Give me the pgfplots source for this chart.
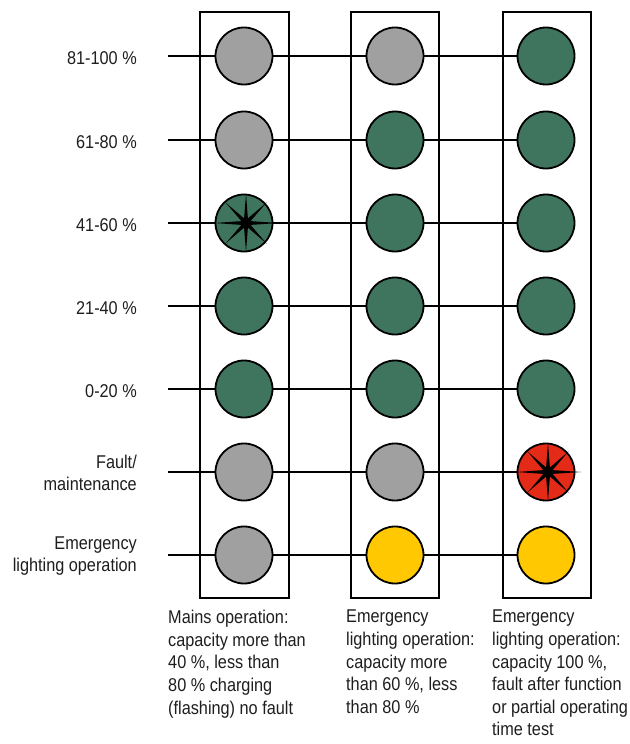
\documentclass[border=0pt]{standalone}
\usepackage{fontspec}
\setmainfont{Liberation Sans}[FakeStretch=0.88]
\usepackage{pgfplots}
\usepackage{pgfplotstable}
\pgfplotsset{compat=1.18}
\definecolor{lgray}{RGB}{160,160,160}
\definecolor{dgreen}{RGB}{63,116,94}
\definecolor{lyellow}{RGB}{255,200,0}
\definecolor{lred}{RGB}{228,43,23}
\definecolor{txt}{RGB}{30,30,30}

\pgfdeclareplotmark{spark}{%
  \pgfpathmoveto{\pgfpointpolar{0}{1.15\pgfplotmarksize}}%
  \pgfpathlineto{\pgfpointpolar{22.5}{0.17\pgfplotmarksize}}%
  \pgfpathlineto{\pgfpointpolar{45}{\pgfplotmarksize}}%
  \pgfpathlineto{\pgfpointpolar{67.5}{0.17\pgfplotmarksize}}%
  \pgfpathlineto{\pgfpointpolar{90}{\pgfplotmarksize}}%
  \pgfpathlineto{\pgfpointpolar{112.5}{0.17\pgfplotmarksize}}%
  \pgfpathlineto{\pgfpointpolar{135}{\pgfplotmarksize}}%
  \pgfpathlineto{\pgfpointpolar{157.5}{0.17\pgfplotmarksize}}%
  \pgfpathlineto{\pgfpointpolar{180}{1.1\pgfplotmarksize}}%
  \pgfpathlineto{\pgfpointpolar{202.5}{0.17\pgfplotmarksize}}%
  \pgfpathlineto{\pgfpointpolar{225}{\pgfplotmarksize}}%
  \pgfpathlineto{\pgfpointpolar{247.5}{0.17\pgfplotmarksize}}%
  \pgfpathlineto{\pgfpointpolar{270}{\pgfplotmarksize}}%
  \pgfpathlineto{\pgfpointpolar{292.5}{0.17\pgfplotmarksize}}%
  \pgfpathlineto{\pgfpointpolar{315}{\pgfplotmarksize}}%
  \pgfpathlineto{\pgfpointpolar{337.5}{0.17\pgfplotmarksize}}%
  \pgfpathclose
  \pgfusepathqfill
}

% cell centres (x = column, y = row, in px from top)
\pgfplotstableread{
x y
244 56
244 140
395 56
244 472
244 555
395 472
}\graydata
\pgfplotstableread{
x y
244 223
244 306
244 389
395 140
395 223
395 306
395 389
546 56
546 140
546 223
546 306
546 389
}\greendata
\pgfplotstableread{
x y
395 555
546 555
}\yellowdata
\pgfplotstableread{
x y
546 472
}\reddata
\pgfplotstableread{
x y
246 223
548 472
}\flashdata

\begin{document}
\begin{tikzpicture}
\begin{axis}[x=1pt, y=1pt, y dir=reverse,
  xmin=0, xmax=629, ymin=0, ymax=744,
  hide axis, clip=false]
\coordinate (BL) at (axis cs:0,744);
\coordinate (TR) at (axis cs:629,0);
% boxes
\addplot[line width=2pt, mark=none] coordinates {(200,12)(289,12)(289,598)(200,598)} -- cycle;
\addplot[line width=2pt, mark=none] coordinates {(351,12)(439,12)(439,598)(351,598)} -- cycle;
\addplot[line width=2pt, mark=none] coordinates {(503,12)(591,12)(591,598)(503,598)} -- cycle;
% row lines
\addplot[line width=2pt, mark=none] coordinates {(168,56)(546,56)};
\addplot[line width=2pt, mark=none] coordinates {(168,140)(546,140)};
\addplot[line width=2pt, mark=none] coordinates {(168,223)(546,223)};
\addplot[line width=2pt, mark=none] coordinates {(168,306)(546,306)};
\addplot[line width=2pt, mark=none] coordinates {(168,389)(546,389)};
\addplot[line width=2pt, mark=none] coordinates {(168,472)(546,472)};
\addplot[line width=2pt, mark=none] coordinates {(168,555)(546,555)};
% lamps
\addplot[only marks, mark=*, mark size=28.5pt, mark options={fill=lgray, draw=black, line width=1.8pt}] table {\graydata};
\addplot[only marks, mark=*, mark size=28.5pt, mark options={fill=dgreen, draw=black, line width=1.8pt}] table {\greendata};
\addplot[only marks, mark=*, mark size=28.5pt, mark options={fill=lyellow, draw=black, line width=1.8pt}] table {\yellowdata};
\addplot[only marks, mark=*, mark size=28.5pt, mark options={fill=lred, draw=black, line width=1.8pt}] table {\reddata};
\addplot[only marks, mark=spark, mark size=29pt, mark options={fill=black, draw=none}] table {\flashdata};
% row labels
\begin{scope}[every node/.style={font=\fontsize{18.5}{22.6}\selectfont, text=txt, inner sep=0pt}]
\node[anchor=east] at (axis cs:137,58) {81-100 \%};
\node[anchor=east] at (axis cs:137,142) {61-80 \%};
\node[anchor=east] at (axis cs:137,225) {41-60 \%};
\node[anchor=east] at (axis cs:137,308) {21-40 \%};
\node[anchor=east] at (axis cs:137,391) {0-20 \%};
\node[anchor=east, align=right] at (axis cs:137,473) {Fault/\\maintenance};
\node[anchor=east, align=right] at (axis cs:137,556) {Emergency\\lighting operation};
\node[anchor=north west, align=left] at (axis cs:168,610) {Mains operation:\\capacity more than\\40 \%, less than\\80 \% charging\\(flashing) no fault};
\node[anchor=north west, align=left] at (axis cs:346,610) {Emergency\\lighting operation:\\capacity more\\than 60 \%, less\\than 80 \%};
\node[anchor=north west, align=left] at (axis cs:492,610) {Emergency\\lighting operation:\\capacity 100 \%,\\fault after function\\or partial operating\\time test};
\end{scope}
\end{axis}
\pgfresetboundingbox
\path[use as bounding box] (BL) rectangle (TR);
\end{tikzpicture}
\end{document}
